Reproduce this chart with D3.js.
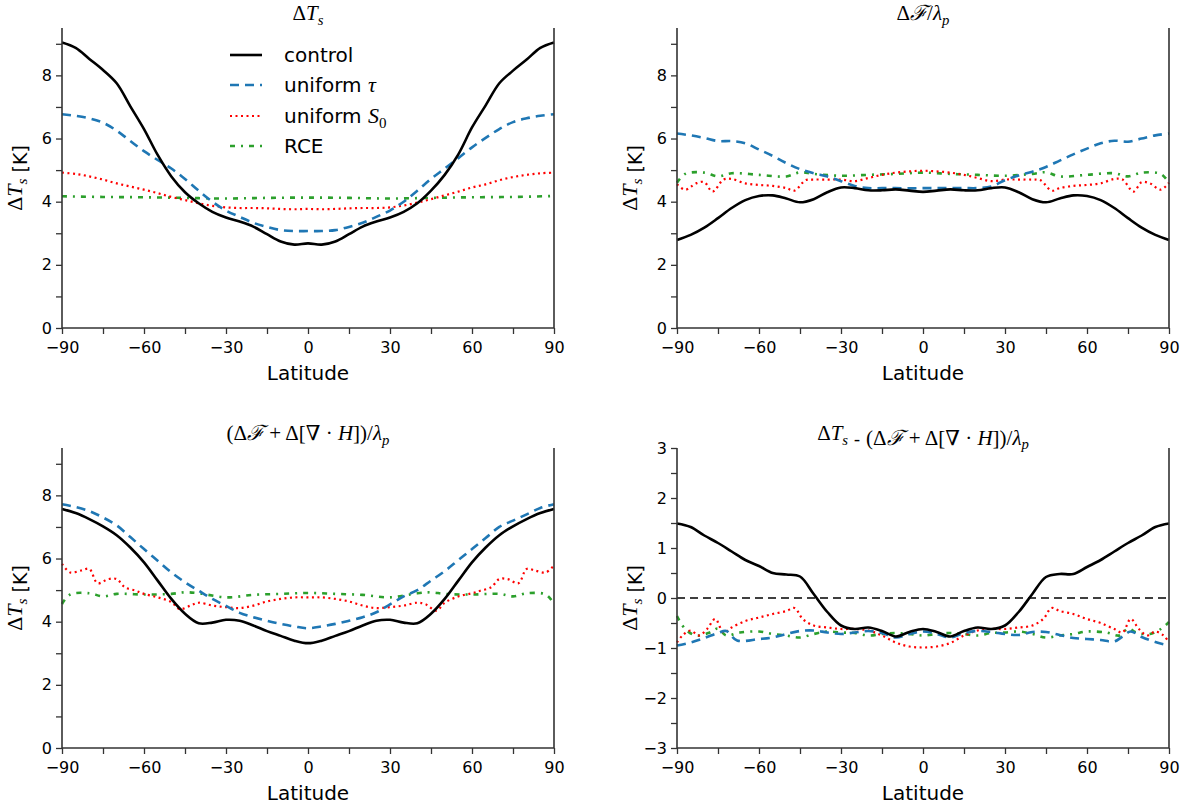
<!DOCTYPE html>
<html><head><meta charset="utf-8">
<script src="https://cdn.jsdelivr.net/npm/d3@7"></script>
<style>
html,body{margin:0;padding:0;background:#fff;}
svg{display:block;}
</style></head>
<body>
<svg id="chart" width="1190" height="806"></svg>
<script>
// ---------- DATA ----------
const lat5 = [-90,-85,-80,-75,-70,-65,-60,-55,-50,-45,-40,-35,-30,-25,-20,-15,-10,-5,0,5,10,15,20,25,30,35,40,45,50,55,60,65,70,75,80,85,90];
const lat15 = [-90,-75,-60,-45,-30,-15,0,15,30,45,60,75,90];
const latGreen = [-90,-87,-80,-75,-70,-60,-50,-45,-40,-30,-20,-10,0,10,20,30,40,45,50,60,70,75,80,87,90];

// Panel 1: Delta T_s
const p1Control = [9.04,8.87,8.52,8.17,7.75,7.02,6.3,5.48,4.8,4.3,3.95,3.68,3.5,3.37,3.21,2.97,2.74,2.64,2.68,2.64,2.74,2.97,3.21,3.37,3.5,3.68,3.95,4.35,4.85,5.5,6.35,7.05,7.75,8.15,8.5,8.87,9.04];
const p1Tau = [6.77,6.72,6.64,6.5,6.25,5.92,5.6,5.32,5.05,4.72,4.35,4.0,3.72,3.52,3.33,3.2,3.1,3.07,3.07,3.07,3.1,3.2,3.33,3.52,3.72,4.0,4.35,4.72,5.05,5.38,5.72,6.02,6.3,6.52,6.64,6.72,6.77];
const p1S0 = [4.92,4.88,4.8,4.7,4.58,4.48,4.38,4.27,4.15,4.05,3.95,3.87,3.82,3.8,3.8,3.79,3.77,3.76,3.77,3.76,3.77,3.79,3.8,3.8,3.82,3.88,3.97,4.08,4.2,4.32,4.45,4.55,4.68,4.78,4.85,4.9,4.92];
const p1RCE = [4.17,4.15,4.14,4.12,4.1,4.12,4.13,4.12,4.1,4.12,4.14,4.15,4.18];

// Panel 2: Delta F / lambda_p
const p2Control = [2.79,2.95,3.18,3.48,3.8,4.05,4.18,4.2,4.1,3.98,4.08,4.3,4.45,4.43,4.36,4.36,4.39,4.35,4.31,4.35,4.39,4.36,4.36,4.43,4.45,4.3,4.08,3.98,4.1,4.2,4.18,4.05,3.8,3.48,3.18,2.95,2.79];
const p2Tau = [6.16,6.1,6.02,5.92,5.92,5.85,5.65,5.45,5.22,5.03,4.9,4.8,4.65,4.5,4.43,4.43,4.43,4.42,4.43,4.43,4.43,4.43,4.43,4.48,4.68,4.83,4.95,5.1,5.3,5.5,5.68,5.85,5.93,5.9,6.0,6.1,6.16];
const p2S0Lat = [-90,-87,-83,-80,-77,-73,-70,-65,-60,-55,-50,-47,-43,-40,-35,-30,-25,-20,-15,-10,-5,0,5,10,15,20,25,30,35,40,43,47,50,55,60,65,70,73,77,80,83,87,90];
const p2S0 = [4.55,4.38,4.58,4.62,4.32,4.7,4.72,4.58,4.53,4.5,4.43,4.35,4.68,4.7,4.7,4.7,4.65,4.75,4.85,4.92,4.96,4.98,4.96,4.92,4.85,4.75,4.65,4.7,4.7,4.7,4.68,4.35,4.43,4.5,4.53,4.58,4.72,4.7,4.32,4.62,4.58,4.38,4.6];
const p2RCE = [4.6,4.88,4.92,4.8,4.9,4.85,4.8,4.93,4.88,4.82,4.85,4.88,4.92,4.88,4.85,4.82,4.88,4.93,4.8,4.85,4.9,4.8,4.92,4.88,4.6];

// Panel 3: (Delta F + Delta[div H]) / lambda_p
const p3Control = [7.57,7.44,7.25,7.02,6.74,6.35,5.88,5.3,4.72,4.25,3.95,3.97,4.06,4.03,3.88,3.7,3.55,3.4,3.32,3.4,3.55,3.7,3.88,4.03,4.06,3.97,3.95,4.25,4.72,5.3,5.88,6.35,6.74,7.02,7.25,7.44,7.57];
const p3Tau = [7.72,7.63,7.5,7.3,7.05,6.68,6.3,5.93,5.56,5.25,4.98,4.72,4.5,4.28,4.14,4.03,3.93,3.85,3.79,3.85,3.93,4.03,4.14,4.3,4.55,4.8,5.0,5.3,5.6,5.95,6.3,6.65,7.0,7.2,7.4,7.6,7.72];
const p3S0Lat = [-90,-87,-83,-80,-77,-73,-70,-67,-63,-60,-55,-50,-47,-43,-40,-35,-30,-25,-20,-15,-10,-5,0,5,10,15,20,25,30,35,40,43,47,50,55,60,63,67,70,73,77,80,83,87,90];
const p3S0 = [5.83,5.56,5.62,5.67,5.22,5.35,5.35,5.09,4.98,4.88,4.77,4.62,4.4,4.51,4.6,4.51,4.46,4.43,4.51,4.64,4.72,4.77,4.77,4.77,4.72,4.64,4.51,4.43,4.46,4.51,4.6,4.55,4.35,4.6,4.8,4.9,4.98,5.09,5.35,5.35,5.22,5.67,5.62,5.56,5.78];
const p3RCE = [4.56,4.86,4.9,4.8,4.88,4.86,4.88,4.93,4.9,4.77,4.85,4.88,4.91,4.88,4.85,4.77,4.9,4.93,4.88,4.86,4.88,4.8,4.9,4.86,4.56];

// Panel 4: residual
const p4Control = [1.49,1.42,1.25,1.1,0.93,0.76,0.64,0.5,0.47,0.43,0.08,-0.28,-0.55,-0.62,-0.59,-0.66,-0.77,-0.68,-0.62,-0.68,-0.77,-0.66,-0.59,-0.62,-0.55,-0.28,0.08,0.42,0.48,0.48,0.62,0.76,0.93,1.1,1.25,1.42,1.49];
const p4TauLat = [-90,-85,-80,-75,-72,-68,-60,-55,-50,-45,-40,-35,-30,-25,-20,-15,-10,-5,0,5,10,15,20,25,30,35,40,45,50,55,60,65,70,73,76,80,85,90];
const p4Tau = [-0.95,-0.89,-0.8,-0.7,-0.66,-0.85,-0.82,-0.79,-0.72,-0.66,-0.65,-0.69,-0.72,-0.69,-0.66,-0.7,-0.79,-0.72,-0.67,-0.72,-0.79,-0.7,-0.66,-0.68,-0.72,-0.74,-0.68,-0.68,-0.74,-0.8,-0.82,-0.84,-0.87,-0.77,-0.67,-0.78,-0.88,-0.95];
const p4S0Lat = [-90,-88,-85,-82,-79,-76,-73,-70,-65,-60,-55,-50,-47,-44,-40,-35,-30,-25,-20,-15,-10,-5,0,5,10,15,20,25,30,35,40,44,47,50,55,60,65,70,73,76,79,82,85,88,90];
const p4S0 = [-0.89,-0.75,-0.65,-0.75,-0.62,-0.42,-0.69,-0.59,-0.46,-0.39,-0.32,-0.26,-0.2,-0.42,-0.55,-0.59,-0.62,-0.62,-0.65,-0.75,-0.89,-0.97,-0.99,-0.97,-0.9,-0.75,-0.65,-0.62,-0.62,-0.59,-0.55,-0.42,-0.2,-0.26,-0.32,-0.42,-0.5,-0.62,-0.69,-0.42,-0.62,-0.75,-0.67,-0.75,-0.89];
const p4RCELat = [-90,-87,-83,-78,-75,-72,-67,-60,-55,-50,-45,-40,-35,-30,-25,-20,-15,-10,-5,0,5,10,15,20,25,30,35,40,45,50,55,60,67,72,75,78,83,87,90];
const p4RCE = [-0.36,-0.62,-0.75,-0.69,-0.61,-0.75,-0.69,-0.67,-0.72,-0.75,-0.79,-0.72,-0.67,-0.69,-0.7,-0.75,-0.72,-0.7,-0.72,-0.75,-0.72,-0.7,-0.72,-0.75,-0.7,-0.69,-0.67,-0.72,-0.79,-0.75,-0.72,-0.67,-0.69,-0.75,-0.61,-0.69,-0.72,-0.62,-0.48];

const xMajorTicks = [-90,-60,-30,0,30,60,90];
const xMinorTicks = [-75,-45,-15,15,45,75];
const yMajorA = [0,2,4,6,8];
const yMinorA = [1,3,5,7,9];
const yMajorB = [-3,-2,-1,0,1,2,3];
const yMinorB = [-2.5,-1.5,-0.5,0.5,1.5,2.5];

const seriesNames = ["control","uniform τ","uniform S0","RCE"];

// ---------- STYLE ----------
const styles = {
  control: {color:"#000000", width:2.6, dash:null},
  tau:     {color:"#1f77b4", width:2.6, dash:"9,6"},
  s0:      {color:"#ff0000", width:2.2, dash:"2,3.5"},
  rce:     {color:"#2ca02c", width:2.6, dash:"5,6,2,6"}
};
const axisColor = "#333";
const mathFont = "'Liberation Serif','DejaVu Serif',serif";
const sansFont = "'DejaVu Sans',sans-serif";

const svg = d3.select("#chart");

const panels = [
  {x0:62, x1:554, y0:28, y1:328, ydom:[0,9.5], yMaj:yMajorA, yMin:yMinorA, title:"t1",
   series:[
     {s:"rce", lat:lat15, v:p1RCE},
     {s:"s0", lat:lat5, v:p1S0},
     {s:"tau", lat:lat5, v:p1Tau},
     {s:"control", lat:lat5, v:p1Control}], legend:true},
  {x0:677, x1:1169, y0:28, y1:328, ydom:[0,9.5], yMaj:yMajorA, yMin:yMinorA, title:"t2",
   series:[
     {s:"rce", lat:latGreen, v:p2RCE},
     {s:"s0", lat:p2S0Lat, v:p2S0},
     {s:"tau", lat:lat5, v:p2Tau},
     {s:"control", lat:lat5, v:p2Control}]},
  {x0:62, x1:554, y0:448, y1:748, ydom:[0,9.5], yMaj:yMajorA, yMin:yMinorA, title:"t3",
   series:[
     {s:"rce", lat:latGreen, v:p3RCE},
     {s:"s0", lat:p3S0Lat, v:p3S0},
     {s:"tau", lat:lat5, v:p3Tau},
     {s:"control", lat:lat5, v:p3Control}]},
  {x0:677, x1:1169, y0:448, y1:748, ydom:[-3,3], yMaj:yMajorB, yMin:yMinorB, title:"t4", zero:true,
   series:[
     {s:"rce", lat:p4RCELat, v:p4RCE},
     {s:"s0", lat:p4S0Lat, v:p4S0},
     {s:"tau", lat:p4TauLat, v:p4Tau},
     {s:"control", lat:lat5, v:p4Control}]}
];

function mathDT(t, size){
  t.append("tspan").text("Δ");
  t.append("tspan").attr("font-style","italic").text("T");
  t.append("tspan").attr("font-style","italic").attr("font-size",size*0.7).attr("dy",size*0.22).text("s");
  t.append("tspan").attr("dy",-size*0.22).text("");
}
function mathFluxH(t,size){
  t.append("tspan").text("(Δ");
  t.append("tspan").attr("font-style","italic").text("ℱ");
  t.append("tspan").text(" + Δ[∇ · ");
  t.append("tspan").attr("font-style","italic").text("H");
  t.append("tspan").text("])/");
  t.append("tspan").attr("font-style","italic").text("λ");
  t.append("tspan").attr("font-style","italic").attr("font-size",size*0.7).attr("dy",size*0.22).text("p");
}

panels.forEach(p => {
  const x = d3.scaleLinear().domain([-90,90]).range([p.x0,p.x1]);
  const y = d3.scaleLinear().domain(p.ydom).range([p.y1,p.y0]);
  const g = svg.append("g");

  if (p.zero){
    g.append("line").attr("x1",p.x0).attr("x2",p.x1).attr("y1",y(0)).attr("y2",y(0))
      .attr("stroke","#000").attr("stroke-width",1.3).attr("stroke-dasharray","8,5");
  }

  p.series.forEach(sr => {
    const st = styles[sr.s];
    const data = sr.lat.map((l,i)=>[l, sr.v[i]]);
    const line = d3.line().x(d=>x(d[0])).y(d=>y(d[1])).curve(d3.curveCatmullRom.alpha(0.5));
    g.append("path").datum(data).attr("d",line).attr("fill","none")
      .attr("stroke",st.color).attr("stroke-width",st.width)
      .attr("stroke-dasharray",st.dash).attr("stroke-linejoin","round");
  });

  g.append("g").attr("transform",`translate(0,${p.y1})`)
    .call(d3.axisBottom(x).tickValues(xMajorTicks).tickSize(6).tickPadding(8).tickFormat(d3.format("d")));
  g.append("g").attr("transform",`translate(0,${p.y1})`)
    .call(d3.axisBottom(x).tickValues(xMinorTicks).tickSize(6).tickFormat(""));
  g.append("g").attr("transform",`translate(${p.x0},0)`)
    .call(d3.axisLeft(y).tickValues(p.yMaj).tickSize(6).tickPadding(4).tickFormat(d3.format("d")));
  g.append("g").attr("transform",`translate(${p.x0},0)`)
    .call(d3.axisLeft(y).tickValues(p.yMin).tickSize(6).tickFormat(""));
  g.selectAll(".domain").remove();
  g.selectAll(".tick line").attr("stroke",axisColor).attr("stroke-width",1.3);
  g.selectAll(".tick text").attr("font-family",sansFont).attr("font-size",16).attr("fill","#000");

  g.append("line").attr("x1",p.x0).attr("x2",p.x0).attr("y1",p.y0).attr("y2",p.y1).attr("stroke",axisColor).attr("stroke-width",1.6);
  g.append("line").attr("x1",p.x1).attr("x2",p.x1).attr("y1",p.y0).attr("y2",p.y1).attr("stroke",axisColor).attr("stroke-width",1.6);
  g.append("line").attr("x1",p.x0).attr("x2",p.x1).attr("y1",p.y1).attr("y2",p.y1).attr("stroke",axisColor).attr("stroke-width",1.6);

  g.append("text").attr("x",(p.x0+p.x1)/2).attr("y",p.y1+52).attr("text-anchor","middle")
    .attr("font-family",sansFont).attr("font-size",20).text("Latitude");

  const yl = g.append("text").attr("transform",`translate(${p.x0-40},${(p.y0+p.y1)/2}) rotate(-90)`)
    .attr("text-anchor","middle").attr("font-size",22).attr("font-family",mathFont);
  mathDT(yl,22);
  yl.append("tspan").attr("font-family",sansFont).attr("font-size",19).text(" [K]");

  const tsize = 21;
  const tt = g.append("text").attr("x",(p.x0+p.x1)/2).attr("y",p.y0-8).attr("text-anchor","middle")
    .attr("font-family",mathFont).attr("font-size",tsize);
  if (p.title==="t1"){ mathDT(tt,tsize); }
  else if (p.title==="t2"){
    tt.append("tspan").text("Δ");
    tt.append("tspan").attr("font-style","italic").text("ℱ");
    tt.append("tspan").text("/");
    tt.append("tspan").attr("font-style","italic").text("λ");
    tt.append("tspan").attr("font-style","italic").attr("font-size",tsize*0.7).attr("dy",tsize*0.22).text("p");
  }
  else if (p.title==="t3"){ mathFluxH(tt,tsize); }
  else {
    mathDT(tt,tsize);
    tt.append("tspan").attr("font-family",sansFont).attr("font-size",18).text(" - ");
    mathFluxH(tt,tsize);
  }

  if (p.legend){
    const keys = ["control","tau","s0","rce"];
    const ly = [55,85,116,146];
    keys.forEach((k,i)=>{
      const st = styles[k];
      g.append("line").attr("x1",230).attr("x2",262).attr("y1",ly[i]).attr("y2",ly[i])
        .attr("stroke",st.color).attr("stroke-width",st.width).attr("stroke-dasharray",st.dash);
      const t = g.append("text").attr("x",284).attr("y",ly[i]+7)
        .attr("font-family",sansFont).attr("font-size",20);
      if (k==="tau"){
        t.append("tspan").text("uniform ");
        t.append("tspan").attr("font-family",mathFont).attr("font-style","italic").attr("font-size",22).text("τ");
      } else if (k==="s0"){
        t.append("tspan").text("uniform ");
        t.append("tspan").attr("font-family",mathFont).attr("font-style","italic").attr("font-size",22).text("S");
        t.append("tspan").attr("font-family",mathFont).attr("font-size",15).attr("dy",5).text("0");
      } else {
        t.text(seriesNames[i]);
      }
    });
  }
});
</script>
</body></html>
